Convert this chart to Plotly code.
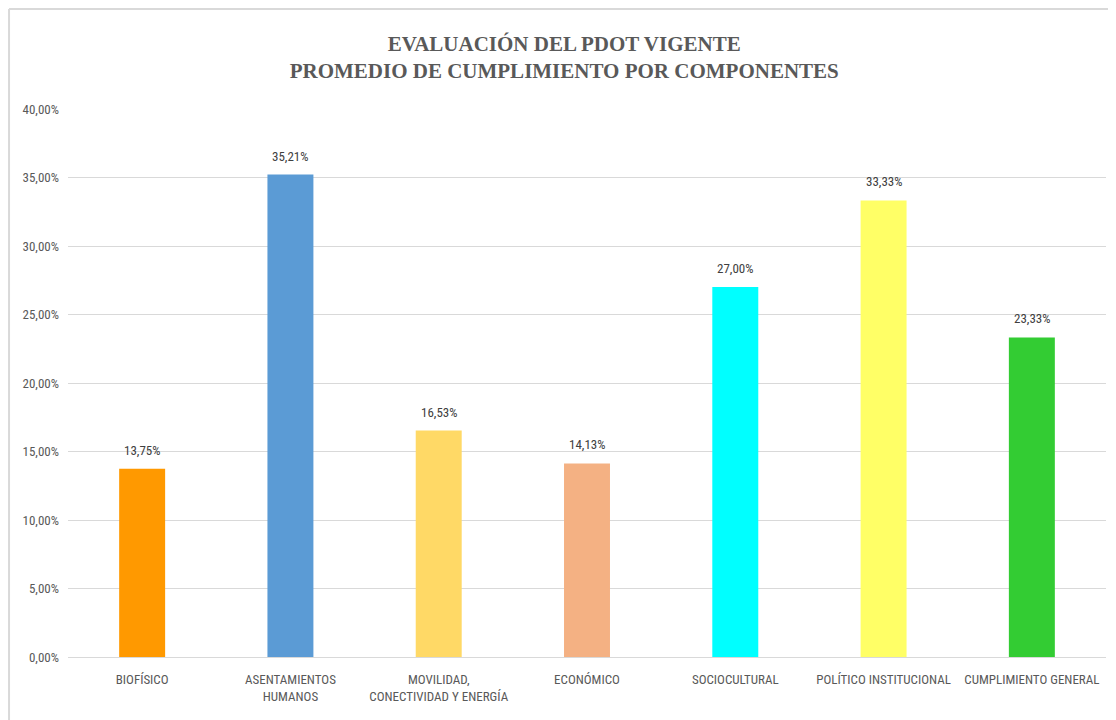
import plotly.graph_objects as go

categories = [
    "BIOFÍSICO",
    "ASENTAMIENTOS<br>HUMANOS",
    "MOVILIDAD,<br>CONECTIVIDAD Y ENERGÍA",
    "ECONÓMICO",
    "SOCIOCULTURAL",
    "POLÍTICO INSTITUCIONAL",
    "CUMPLIMIENTO GENERAL",
]
values = [0.1375, 0.3521, 0.1653, 0.1413, 0.2700, 0.3333, 0.2333]
colors = ["#FF9900", "#5B9BD5", "#FFD966", "#F4B183", "#00FFFF", "#FFFF66", "#33CC33"]

label_font = "Liberation Sans Narrow, Arial Narrow, Roboto Condensed, Roboto, sans-serif"

fig = go.Figure(go.Bar(
    x=categories,
    y=values,
    marker=dict(color=colors, line=dict(width=0)),
    hoverinfo="skip",
))

# value labels above bars
for c, v in zip(categories, values):
    fig.add_annotation(
        x=c, y=v, text=f"{v * 100:.2f}%".replace(".", ","),
        showarrow=False, yanchor="bottom", yshift=9,
        font=dict(family=label_font, size=13, color="#404040"),
    )

fig.update_layout(
    width=1108,
    height=712,
    title=dict(
        text="<b>EVALUACIÓN DEL PDOT VIGENTE<br>PROMEDIO DE CUMPLIMIENTO POR COMPONENTES</b>",
        font=dict(family="Liberation Serif, Times New Roman, serif", size=21, color="#595959"),
        x=0.502, xanchor="center", xref="container",
        y=0.940, yanchor="middle", yref="container",
    ),
    separators=",.",
    bargap=0.69,
    plot_bgcolor="white",
    paper_bgcolor="white",
    showlegend=False,
    margin=dict(l=60, r=10, t=101, b=63),
    xaxis=dict(
        showgrid=False,
        showline=True,
        linecolor="#D9D9D9",
        linewidth=1,
        tickfont=dict(family=label_font, size=13, color="#595959"),
        ticks="",
        ticklabelstandoff=10,
        fixedrange=True,
    ),
    yaxis=dict(
        range=[0, 0.40],
        dtick=0.05,
        tickformat=".2%",
        showgrid=True,
        gridcolor="#D9D9D9",
        gridwidth=1,
        zeroline=False,
        tickfont=dict(family=label_font, size=13, color="#595959"),
        ticks="",
        ticklabelstandoff=8,
        fixedrange=True,
    ),
)

# chart frame (top and left edges visible in the original)
fig.add_shape(type="line", xref="paper", yref="paper",
              x0=-0.0568, x1=1.01, y0=1.1825, y1=1.1825,
              line=dict(color="#D9D9D9", width=2))
fig.add_shape(type="line", xref="paper", yref="paper",
              x0=-0.0568, x1=-0.0568, y0=-0.12, y1=1.1825,
              line=dict(color="#D9D9D9", width=2))

fig.write_html("out.html")
